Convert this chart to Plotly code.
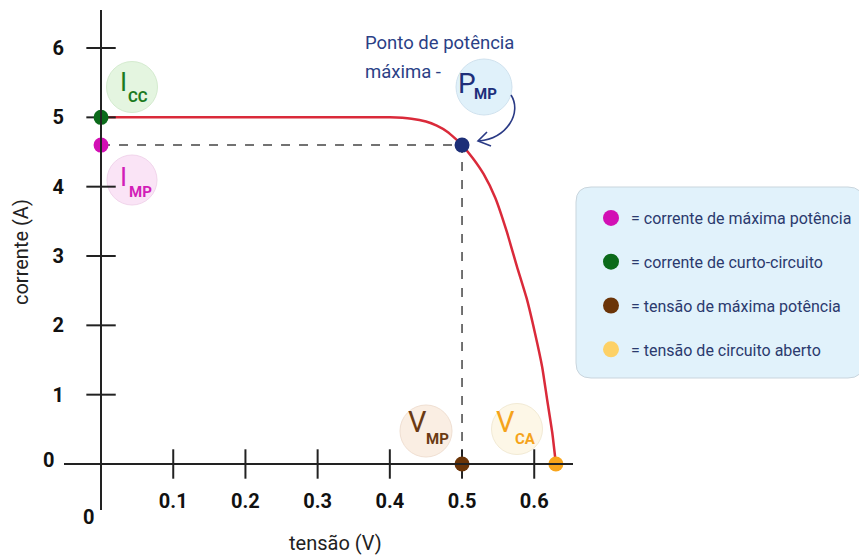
import plotly.graph_objects as go

# ---------------- data ----------------
tensao = [0.0, 0.1, 0.2, 0.3, 0.4, 0.43, 0.45, 0.465, 0.48, 0.49, 0.5, 0.515, 0.53, 0.546,
          0.562, 0.576, 0.59, 0.601, 0.611, 0.618, 0.625, 0.63]
corrente = [5.0, 5.0, 5.0, 5.0, 5.0, 4.98, 4.94, 4.88, 4.79, 4.7, 4.6, 4.41, 4.18, 3.84,
            3.35, 2.85, 2.37, 1.89, 1.4, 0.92, 0.45, 0.0]

x_ticks = [0.1, 0.2, 0.3, 0.4, 0.5, 0.6]
x_tick_labels = ["0.1", "0.2", "0.3", "0.4", "0.5", "0.6"]
y_ticks = [1, 2, 3, 4, 5, 6]
y_tick_labels = ["1", "2", "3", "4", "5", "6"]

i_cc = 5.0
i_mp = 4.6
v_mp = 0.5
v_ca = 0.63

legend_labels = ["= corrente de máxima potência", "= corrente de curto-circuito",
                 "= tensão de máxima potência", "= tensão de circuito aberto"]
legend_colors = ["#d210b4", "#0b6a1a", "#6b3508", "#fdd166"]

# ---------------- geometry helpers ----------------
xr = [-0.0513, 0.6537]
yr = [-0.6635, 6.5484]
W, H = 867, 557
OFF = 8                      # page body margin of the html page
PL, PR, PT, PB = 64, 573, 10, 510   # plot area in page pixels
PW, PH = PR - PL, PB - PT


def dx(px):
    return xr[0] + (px - PL) / PW * (xr[1] - xr[0])


def dy(py):
    return yr[0] + (PB - py) / PH * (yr[1] - yr[0])


def pxp(px):
    return (px - PL) / PW


def pyp(py):
    return (PB - py) / PH


fig = go.Figure()

# bubbles (label backgrounds)
bubbles = [
    # x, y, diameter, fill, border, big letter, sub, color, letter shift, sub shift, big size
    (dx(132), dy(87), 51, "#d9f2d3", "#c3e3bc", "I", "CC", "#1b7a21", (-9, 5), (6, -10), 26),
    (dx(132), dy(180), 50, "#f8d9f3", "#ecc4e4", "I", "MP", "#d21fb8", (-9, 3), (8, -12), 26),
    (dx(484), dy(87), 56, "#d4ecf8", "#bcd6e8", "P", "MP", "#1e2f7a", (-17, 4), (1, -7), 28),
    (dx(426), dy(431), 52, "#f9e7d8", "#ead3c0", "V", "MP", "#6b3a12", (-9, 9), (11, -8), 29),
    (dx(517), dy(429), 51, "#fdf5dd", "#ede2c4", "V", "CA", "#f5a31a", (-12, 7), (8, -10), 29),
]
fig.add_trace(go.Scatter(
    x=[b[0] for b in bubbles], y=[b[1] for b in bubbles], mode="markers",
    marker=dict(size=[b[2] for b in bubbles], color=[b[3] for b in bubbles],
                line=dict(color=[b[4] for b in bubbles], width=1)),
    showlegend=False, hoverinfo="skip"))

# dashed guides
fig.add_trace(go.Scatter(x=[0, v_mp, v_mp], y=[i_mp, i_mp, 0], mode="lines",
                         line=dict(color="#444444", width=1.5, dash="dash"),
                         showlegend=False, hoverinfo="skip"))

# I-V curve
fig.add_trace(go.Scatter(x=tensao, y=corrente, mode="lines",
                         line=dict(color="#da2a3a", width=2.5, shape="spline", smoothing=0.5),
                         showlegend=False))

# tick marks crossing the axes
fig.add_trace(go.Scatter(x=x_ticks, y=[0] * len(x_ticks), mode="markers",
                         marker=dict(symbol="line-ns-open", size=21, color="#222",
                                     line=dict(color="#222", width=2)),
                         showlegend=False, hoverinfo="skip", cliponaxis=False))
fig.add_trace(go.Scatter(x=[0] * len(y_ticks), y=y_ticks, mode="markers",
                         marker=dict(symbol="line-ew-open", size=21, color="#222",
                                     line=dict(color="#222", width=2)),
                         showlegend=False, hoverinfo="skip", cliponaxis=False))

# key points
fig.add_trace(go.Scatter(
    x=[0, 0, v_mp, v_mp, v_ca], y=[i_cc, i_mp, i_mp, 0, 0], mode="markers",
    marker=dict(size=15, color=["#0b6a1a", "#d210b4", "#1d2f78", "#6b3508", "#f8a51b"]),
    showlegend=False, cliponaxis=False))

# legend entries
for lab, col in zip(legend_labels, legend_colors):
    fig.add_trace(go.Scatter(x=[None], y=[None], mode="markers", name=lab,
                             legendgroup=lab,
                             marker=dict(size=18, color=col)))

ann = []
for b in bubbles:
    ann.append(dict(x=b[0], y=b[1], xref="x", yref="y", text=b[5], showarrow=False,
                    xanchor="center", yanchor="middle",
                    xshift=b[8][0], yshift=b[8][1],
                    font=dict(family="Roboto", size=b[10], color=b[7])))
    ann.append(dict(x=b[0], y=b[1], xref="x", yref="y", text=b[6], showarrow=False,
                    xanchor="center", yanchor="middle",
                    xshift=b[9][0], yshift=b[9][1],
                    font=dict(family="Roboto", size=15, color=b[7], weight="bold")))


def paper_text(px, py, text, size, color, weight="normal", xanchor="center", angle=0):
    return dict(x=pxp(px), y=pyp(py), xref="paper", yref="paper", text=text,
                showarrow=False, xanchor=xanchor, yanchor="middle", textangle=angle,
                font=dict(family="Roboto", size=size, color=color, weight=weight))


ann += [
    paper_text(363, 43, "Ponto de potência", 18.5, "#2b3f86", xanchor="left"),
    paper_text(363, 72, "máxima -", 18.5, "#2b3f86", xanchor="left"),
    paper_text(48, 460, "0", 20, "#111", weight="bold"),
    paper_text(88, 517, "0", 20, "#111", weight="bold"),
    paper_text(21, 252, "corrente (A)", 20, "#222", angle=-90),
    paper_text(335, 543, "tensão (V)", 20, "#222"),
]

shapes = []
# curved arrow to P_MP
shapes.append(dict(type="path", xref="x", yref="y",
                   path=f"M {dx(511)},{dy(95)} C {dx(522)},{dy(112)} {dx(508)},{dy(138)} {dx(479)},{dy(141)}",
                   line=dict(color="#2a3a85", width=1.6)))
shapes.append(dict(type="path", xref="x", yref="y",
                   path=f"M {dx(487)},{dy(132)} L {dx(478)},{dy(141)} L {dx(491)},{dy(146)}",
                   line=dict(color="#2a3a85", width=1.6)))

# legend box with rounded corners (paper coords)
x0, x1, y0, y1 = pxp(576), pxp(863), pyp(378), pyp(187)
rx, ry = 15 / PW, 15 / PH
box = (f"M {x0+rx},{y1} L {x1-rx},{y1} Q {x1},{y1} {x1},{y1-ry} L {x1},{y0+ry} "
       f"Q {x1},{y0} {x1-rx},{y0} L {x0+rx},{y0} Q {x0},{y0} {x0},{y0+ry} "
       f"L {x0},{y1-ry} Q {x0},{y1} {x0+rx},{y1} Z")
shapes.append(dict(type="path", xref="paper", yref="paper", path=box,
                   fillcolor="#e1f2fb", line=dict(color="#c9d5dd", width=1), layer="below"))

fig.update_layout(
    width=W, height=H,
    margin=dict(l=PL - OFF, r=W - (PR - OFF), t=PT - OFF, b=H - (PB - OFF), autoexpand=False),
    paper_bgcolor="white", plot_bgcolor="white",
    xaxis=dict(range=xr, anchor="free", position=(0 - yr[0]) / (yr[1] - yr[0]),
               showline=True, linecolor="#222", linewidth=2, showgrid=False, zeroline=False,
               tickvals=x_ticks, ticktext=x_tick_labels, ticks="",
               ticklabelstandoff=19, automargin=False,
               tickfont=dict(family="Roboto", size=20, color="#111", weight="bold")),
    yaxis=dict(range=yr, anchor="free", position=(0 - xr[0]) / (xr[1] - xr[0]),
               showline=True, linecolor="#222", linewidth=2, showgrid=False, zeroline=False,
               tickvals=y_ticks, ticktext=y_tick_labels, ticks="",
               ticklabelstandoff=32, automargin=False,
               tickfont=dict(family="Roboto", size=20, color="#111", weight="bold")),
    legend=dict(x=pxp(591), y=pyp(201), xanchor="left", yanchor="top",
                bgcolor="rgba(0,0,0,0)", tracegroupgap=20, traceorder="grouped",
                font=dict(family="Roboto", size=16, color="#2b3a6e")),
    annotations=ann, shapes=shapes,
)

fig.write_html("out.html")
